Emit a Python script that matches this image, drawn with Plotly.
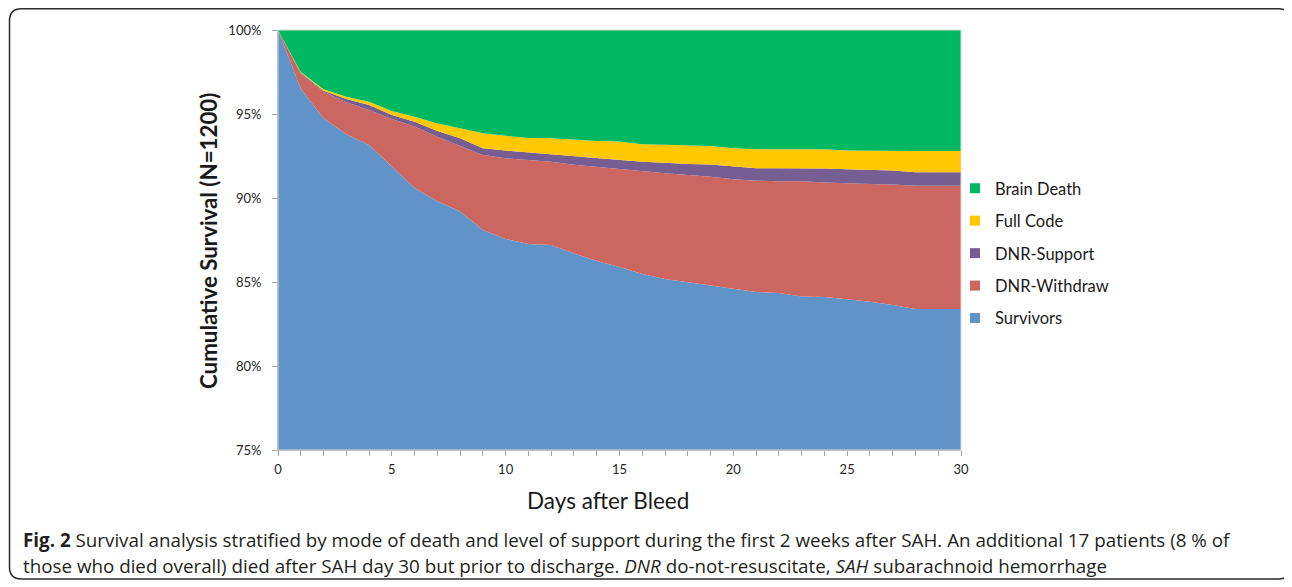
import plotly.graph_objects as go

days = list(range(0, 31))

survivors = [100, 96.5, 94.75, 93.8, 93.15, 91.9, 90.6, 89.8, 89.2, 88.1, 87.56,
             87.26, 87.2, 86.7, 86.25, 85.9, 85.48, 85.18, 85.0, 84.8, 84.6,
             84.4, 84.35, 84.13, 84.1, 83.97, 83.83, 83.63, 83.4, 83.4, 83.4]
dnr_withdraw = [0, 0.9, 1.58, 1.9, 2.09, 2.8, 3.65, 3.85, 3.9, 4.46, 4.8,
                4.98, 4.96, 5.28, 5.6, 5.82, 6.09, 6.29, 6.37, 6.47, 6.51,
                6.63, 6.65, 6.87, 6.83, 6.9, 7.0, 7.17, 7.33, 7.33, 7.33]
dnr_support = [0, 0.05, 0.06, 0.19, 0.3, 0.24, 0.29, 0.34, 0.45, 0.4, 0.46,
               0.47, 0.48, 0.53, 0.57, 0.58, 0.59, 0.63, 0.65, 0.73, 0.76,
               0.74, 0.77, 0.77, 0.82, 0.84, 0.84, 0.83, 0.8, 0.8, 0.8]
full_code = [0, 0.05, 0.08, 0.14, 0.19, 0.24, 0.3, 0.45, 0.6, 0.89, 0.88,
             0.86, 0.91, 0.96, 0.98, 1.06, 1.04, 1.07, 1.11, 1.1, 1.09,
             1.13, 1.13, 1.13, 1.15, 1.11, 1.13, 1.17, 1.27, 1.27, 1.27]
brain_death = [0, 2.5, 3.53, 3.97, 4.27, 4.82, 5.16, 5.56, 5.85, 6.15, 6.3,
               6.43, 6.45, 6.53, 6.6, 6.64, 6.8, 6.83, 6.87, 6.9, 7.04,
               7.1, 7.1, 7.1, 7.1, 7.18, 7.2, 7.2, 7.2, 7.2, 7.2]

series_names = ["Survivors", "DNR-Withdraw", "DNR-Support", "Full Code", "Brain Death"]
series_values = [survivors, dnr_withdraw, dnr_support, full_code, brain_death]
series_colors = ["#6094c8", "#cc6660", "#775e92", "#ffc800", "#00b862"]

y_ticks = [75, 80, 85, 90, 95, 100]
y_tick_labels = ["75%", "80%", "85%", "90%", "95%", "100%"]
x_ticks = [0, 5, 10, 15, 20, 25, 30]

x_title = "Days after Bleed"
y_title = "<b>Cumulative Survival (N=1200)</b>"
caption1 = ("<b>Fig. 2</b> Survival analysis stratified by mode of death and level of support "
            "during the first 2 weeks after SAH. An additional 17 patients (8 % of")
caption2 = ("those who died overall) died after SAH day 30 but prior to discharge. "
            "<i>DNR</i> do-not-resuscitate, <i>SAH</i> subarachnoid hemorrhage")

OFF = 8  # page body margin
W, H = 1292 - OFF, 587 - OFF
L, R, T, B = 278 - OFF, 961 - OFF, 30 - OFF, 450 - OFF

def px_x(p):
    return (p - OFF - L) / (R - L)

def px_y(p):
    return (B - (p - OFF)) / (B - T)

fig = go.Figure()
for name, vals, col in zip(series_names, series_values, series_colors):
    fig.add_trace(go.Scatter(
        x=days, y=vals, name=name, mode="lines", stackgroup="one",
        line=dict(width=0, color=col), fillcolor=col, showlegend=False,
    ))

# legend entries (top to bottom)
for name, col in zip(series_names[::-1], series_colors[::-1]):
    fig.add_trace(go.Scatter(
        x=[None], y=[None], mode="markers", name=name, legendgroup=name,
        marker=dict(symbol="square", size=10, color=col),
    ))

tick_font = dict(family="Lato, sans-serif", size=13, color="#262626")

fig.update_layout(
    width=W, height=H,
    margin=dict(l=L, r=W - R, t=T, b=H - B, pad=0),
    paper_bgcolor="white", plot_bgcolor="white",
    showlegend=True,
    legend=dict(
        x=px_x(955), y=px_y(171), xanchor="left", yanchor="top",
        font=dict(family="Lato, sans-serif", size=16.5, color="#1a1a1a"),
        tracegroupgap=8, traceorder="grouped", bgcolor="rgba(0,0,0,0)",
        itemwidth=30,
    ),
    xaxis=dict(
        range=[0, 30], tickvals=x_ticks, ticks="outside", ticklen=5,
        tickcolor="#a6a6a6", showline=True, linecolor="#a6a6a6", linewidth=1,
        showgrid=False, zeroline=False, tickfont=tick_font, ticklabelstandoff=2,
        minor=dict(dtick=1, ticks="outside", ticklen=5, tickcolor="#a6a6a6"),
    ),
    yaxis=dict(
        range=[75, 100], tickvals=y_ticks, ticktext=y_tick_labels, ticks="outside",
        ticklen=5, tickcolor="#a6a6a6", showline=True, linecolor="#a6a6a6",
        linewidth=1, showgrid=False, zeroline=False, tickfont=tick_font,
        ticklabelstandoff=8,
    ),
)

fig.add_annotation(text=x_title, xref="paper", yref="paper", x=px_x(608), y=px_y(500),
                   xanchor="center", yanchor="middle", showarrow=False,
                   font=dict(family="Lato, sans-serif", size=22.5, color="#1a1a1a"))
fig.add_annotation(text=y_title, xref="paper", yref="paper", x=px_x(208), y=px_y(241),
                   xanchor="center", yanchor="middle", showarrow=False, textangle=-90,
                   font=dict(family="Lato, sans-serif", size=22.3, color="#1a1a1a"))

# faint plot-area border on top/right
fig.add_shape(type="rect", xref="paper", yref="paper", x0=0, y0=0, x1=1, y1=1,
              line=dict(color="#d9d9d9", width=1), layer="above")

# rounded frame around the figure
x0, x1 = px_x(9.5), px_x(1290.5)
y0, y1 = px_y(8.8), px_y(579)
rx = 12 / (R - L)
ry = 12 / (B - T)
path = (f"M {x0 + rx} {y0} L {x1 - rx} {y0} Q {x1} {y0} {x1} {y0 - ry} "
        f"L {x1} {y1 + ry} Q {x1} {y1} {x1 - rx} {y1} "
        f"L {x0 + rx} {y1} Q {x0} {y1} {x0} {y1 + ry} "
        f"L {x0} {y0 - ry} Q {x0} {y0} {x0 + rx} {y0} Z")
fig.add_shape(type="path", xref="paper", yref="paper", path=path,
              line=dict(color="#2b2b2b", width=1.5))

cap_font = dict(family="Open Sans, sans-serif", size=18.8, color="#231f20")
fig.add_annotation(text=caption1, xref="paper", yref="paper", x=px_x(21), y=px_y(540),
                   xanchor="left", yanchor="middle", showarrow=False, font=cap_font)
fig.add_annotation(text=caption2, xref="paper", yref="paper", x=px_x(21), y=px_y(566),
                   xanchor="left", yanchor="middle", showarrow=False, font=cap_font)

fig.write_html("out.html")
